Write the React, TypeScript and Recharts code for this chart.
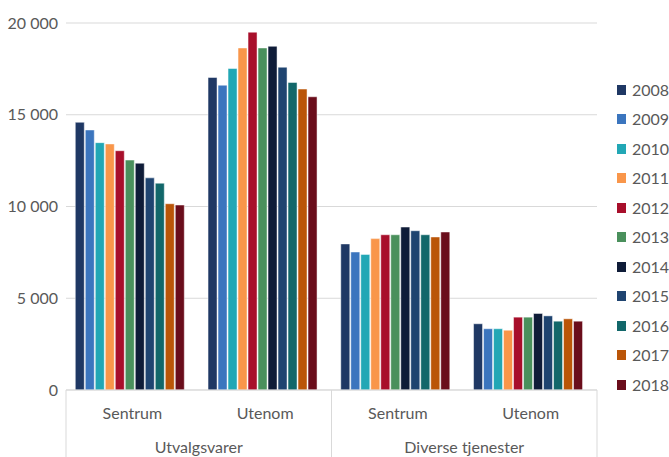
import React from "react";
import { BarChart, Bar, XAxis, YAxis, CartesianGrid, Legend } from "recharts";

const subCategories = ["Sentrum", "Utenom", "Sentrum", "Utenom"];
const groups = ["Utvalgsvarer", "Diverse tjenester"];
const years = ["2008", "2009", "2010", "2011", "2012", "2013", "2014", "2015", "2016", "2017", "2018"];

const v2008 = [14590, 17030, 7960, 3610];
const v2009 = [14170, 16610, 7520, 3340];
const v2010 = [13480, 17520, 7390, 3340];
const v2011 = [13410, 18640, 8250, 3260];
const v2012 = [13040, 19500, 8460, 3970];
const v2013 = [12530, 18640, 8460, 3970];
const v2014 = [12360, 18730, 8880, 4170];
const v2015 = [11560, 17590, 8680, 4040];
const v2016 = [11270, 16760, 8460, 3750];
const v2017 = [10150, 16400, 8340, 3880];
const v2018 = [10080, 15980, 8610, 3750];

const seriesValues = [v2008, v2009, v2010, v2011, v2012, v2013, v2014, v2015, v2016, v2017, v2018];
const yTicks = [0, 5000, 10000, 15000, 20000];

const colors = [
  "#1F3864", "#3B75BE", "#22A7B5", "#F9964A", "#A80F2B", "#4A905C",
  "#0F1C38", "#1F4470", "#12676A", "#BA5508", "#6A0D1B",
];

const data = subCategories.map((sub, i) => {
  const row: Record<string, any> = { sub, group: groups[Math.floor(i / 2)] };
  years.forEach((y, s) => {
    row[y] = seriesValues[s][i];
  });
  return row;
});

const W = 669;
const H = 457;
const PLOT_LEFT = 66;
const PLOT_RIGHT = 597;
const PLOT_BOTTOM = 390;
const BAND = (PLOT_RIGHT - PLOT_LEFT) / subCategories.length;
const TEXT = "#595959";
const LINE = "#d9d9d9";

const fmt = (v: number) => {
  if (v === 0) return "0";
  const s = String(v);
  return s.slice(0, s.length - 3) + "\u00a0" + s.slice(s.length - 3);
};

const CatTick = (props: any) => {
  const { x, payload, index } = props;
  const i = typeof index === "number" ? index : payload.index;
  const cx = x;
  return (
    <g>
      <text x={cx} y={PLOT_BOTTOM + 29} textAnchor="middle" fill={TEXT} fontSize={16}>
        {payload.value}
      </text>
      {i % 2 === 0 && (
        <text x={cx + BAND / 2} y={PLOT_BOTTOM + 63} textAnchor="middle" fill={TEXT} fontSize={16}>
          {groups[i / 2]}
        </text>
      )}
      {i === 0 && (
        <line x1={cx - BAND / 2} x2={cx - BAND / 2} y1={PLOT_BOTTOM} y2={H} stroke={LINE} />
      )}
      {i % 2 === 1 && (
        <line x1={cx + BAND / 2} x2={cx + BAND / 2} y1={PLOT_BOTTOM} y2={H} stroke={LINE} />
      )}
    </g>
  );
};

const LegendContent = () => (
  <div style={{ width: 72, fontFamily: "Lato, sans-serif" }}>
    {years.map((y, i) => (
      <div key={y} style={{ height: 29.5, display: "flex", alignItems: "center", paddingLeft: 20 }}>
        <span style={{ width: 10, height: 10, background: colors[i], display: "inline-block", marginRight: 6 }} />
        <span style={{ fontSize: 16, color: TEXT, lineHeight: "16px" }}>{y}</span>
      </div>
    ))}
  </div>
);

export default function App() {
  return (
    <div style={{ position: "absolute", left: 0, top: 0, width: W, height: H, background: "#fff", fontFamily: "Lato, sans-serif" }}>
      <BarChart
        width={W}
        height={H}
        data={data}
        margin={{ top: 23, right: 0, left: 6, bottom: 0 }}
        barCategoryGap="7%"
        barGap={1}
        style={{ fontFamily: "Lato, sans-serif" }}
      >
        <CartesianGrid vertical={false} stroke={LINE} />
        <XAxis
          dataKey="sub"
          height={67}
          axisLine={{ stroke: LINE }}
          tickLine={false}
          tick={<CatTick />}
          interval={0}
        />
        <YAxis
          width={60}
          domain={[0, 20000]}
          ticks={yTicks}
          tickFormatter={fmt}
          axisLine={false}
          tickLine={false}
          tick={{ fill: TEXT, fontSize: 16 }}
        />
        <Legend
          layout="vertical"
          align="right"
          verticalAlign="middle"
          content={<LegendContent />}
          wrapperStyle={{ left: 597, top: 75, width: 72 }}
        />
        {years.map((y, i) => (
          <Bar
            key={y}
            dataKey={y}
            fill={colors[i]}
            stroke="rgba(255,255,255,0.6)"
            strokeWidth={0.8}
            isAnimationActive={false}
          />
        ))}
      </BarChart>
    </div>
  );
}
